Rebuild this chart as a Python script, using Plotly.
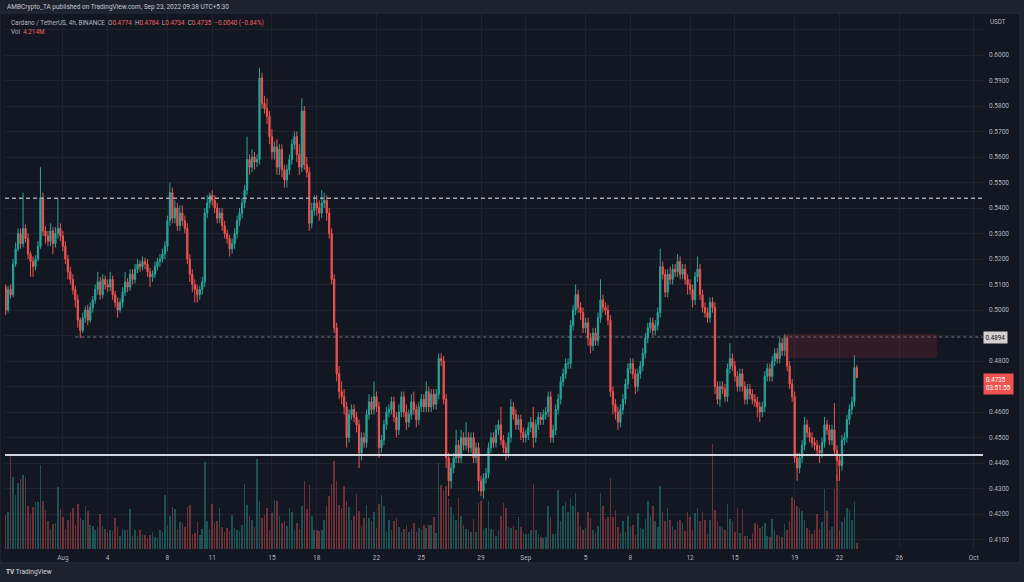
import plotly.graph_objects as go
import pandas as pd

# ---------------- data (ADA/USDT 4h, BINANCE) ----------------
# prices in 1e-4 USDT
first_open = 5090
close = [
    5000, 5080, 5060, 5180, 5240,              # Jul 28
    5300, 5260, 5320, 5280, 5220, 5190,        # Jul 29
    5170, 5200, 5250, 5440, 5310, 5290,        # Jul 30
    5270, 5310, 5260, 5300, 5320, 5290,        # Jul 31
    5250, 5200, 5150, 5120, 5080, 5040,        # Aug 1
    4960, 4920, 4970, 5000, 4960, 5010,        # Aug 2
    5040, 5080, 5110, 5060, 5120, 5100,        # Aug 3
    5090, 5120, 5060, 5030, 5000, 5030,        # Aug 4
    5070, 5110, 5090, 5140, 5120, 5160,        # Aug 5
    5180, 5170, 5190, 5180, 5150, 5130,        # Aug 6
    5140, 5170, 5190, 5200, 5220, 5250,        # Aug 7
    5350, 5460, 5360, 5400, 5330, 5380,        # Aug 8
    5350, 5320, 5200, 5140, 5100, 5080,        # Aug 9
    5060, 5080, 5110, 5380, 5420, 5450,        # Aug 10
    5430, 5400, 5360, 5380, 5330, 5300,        # Aug 11
    5280, 5240, 5260, 5300, 5350, 5380,        # Aug 12
    5420, 5470, 5590, 5560, 5600, 5580,        # Aug 13
    5590, 5910, 5810, 5790, 5760, 5680,        # Aug 14
    5620, 5640, 5560, 5630, 5550, 5510,        # Aug 15
    5550, 5590, 5650, 5680, 5610, 5560,        # Aug 16
    5780, 5570, 5540, 5340, 5390, 5420,        # Aug 17
    5400, 5380, 5420, 5430, 5380, 5300,        # Aug 18
    5120, 4930, 4750, 4680, 4660, 4620,        # Aug 19
    4500, 4590, 4610, 4580, 4550, 4440,        # Aug 20
    4500, 4480, 4590, 4640, 4610, 4660,        # Aug 21
    4620, 4460, 4490, 4550, 4600, 4610,        # Aug 22
    4640, 4580, 4530, 4600, 4660, 4600,        # Aug 23
    4560, 4590, 4640, 4610, 4570, 4620,        # Aug 24
    4650, 4620, 4680, 4620, 4670, 4630,        # Aug 25
    4670, 4810, 4800, 4650, 4420, 4330,        # Aug 26
    4380, 4420, 4470, 4420, 4500, 4470,        # Aug 27
    4500, 4460, 4500, 4420, 4460, 4330,        # Aug 28
    4290, 4340, 4360, 4460, 4500, 4480,        # Aug 29
    4530, 4550, 4490, 4460, 4440, 4500,        # Aug 30
    4620, 4590, 4550, 4570, 4520, 4500,        # Aug 31
    4510, 4540, 4560, 4500, 4550, 4580,        # Sep 1
    4570, 4590, 4600, 4660, 4500, 4530,        # Sep 2
    4610, 4650, 4720, 4750, 4790, 4790,        # Sep 3
    4940, 5000, 5060, 5010, 4990, 4930,        # Sep 4
    4950, 4890, 4860, 4910, 4880, 4970,        # Sep 5
    5040, 5010, 5000, 4960, 4680, 4630,        # Sep 6
    4600, 4560, 4610, 4650, 4710, 4770,        # Sep 7
    4790, 4750, 4700, 4750, 4780, 4830,        # Sep 8
    4890, 4930, 4950, 4920, 4940, 4990,        # Sep 9
    5170, 5140, 5070, 5140, 5120, 5160,        # Sep 10
    5150, 5190, 5140, 5160, 5120, 5100,        # Sep 11
    5080, 5040, 5130, 5160, 5060, 5010,        # Sep 12
    4990, 4970, 5030, 5010, 4700, 4650,        # Sep 13
    4700, 4690, 4660, 4770, 4810, 4780,        # Sep 14
    4740, 4700, 4750, 4700, 4650, 4690,        # Sep 15
    4670, 4650, 4640, 4620, 4600, 4620,        # Sep 16
    4740, 4770, 4740, 4800, 4830, 4810,        # Sep 17
    4870, 4840, 4890, 4780, 4710, 4660,        # Sep 18
    4420, 4380, 4420, 4470, 4550, 4520,        # Sep 19
    4500, 4480, 4470, 4450, 4440, 4480,        # Sep 20
    4550, 4530, 4490, 4530, 4450, 4410,        # Sep 21
    4390, 4490, 4500, 4570, 4610, 4640,        # Sep 22
    4774, 4735,                                # Sep 23
]
# wick length above max(open, close), 1e-4 USDT
upper_wick = [
    10, 15, 20, 20, 25,
    20, 20, 140, 15, 20, 10,
    20, 15, 20, 120, 20, 20,
    20, 30, 15, 25, 120, 20,
    20, 20, 15, 20, 20, 15,
    20, 10, 20, 15, 20, 20,
    15, 20, 40, 20, 20, 15,
    20, 30, 15, 15, 20, 15,
    20, 40, 15, 20, 20, 20,
    20, 15, 20, 15, 20, 15,
    15, 20, 15, 20, 20, 20,
    20, 40, 20, 30, 20, 30,
    30, 20, 20, 20, 20, 20,
    20, 15, 20, 20, 30, 10,
    20, 20, 20, 20, 20, 20,
    15, 15, 20, 20, 20, 20,
    20, 20, 90, 20, 30, 20,
    20, 40, 20, 30, 40, 20,
    30, 20, 30, 20, 20, 20,
    20, 20, 20, 20, 20, 40,
    50, 20, 30, 20, 30, 30,
    30, 30, 50, 30, 20, 20,
    20, 20, 20, 30, 40, 30,
    20, 20, 20, 20, 20, 20,
    20, 20, 20, 30, 20, 60,
    20, 20, 20, 20, 20, 20,
    20, 20, 20, 30, 20, 20,
    30, 20, 30, 40, 20, 20,
    20, 20, 40, 20, 20, 20,
    20, 20, 20, 20, 20, 20,
    20, 20, 60, 20, 30, 20,
    60, 20, 20, 20, 20, 20,
    20, 20, 20, 20, 20, 20,
    20, 20, 70, 20, 20, 20,
    30, 20, 20, 20, 20, 20,
    20, 20, 20, 60, 20, 20,
    20, 20, 20, 20, 20, 20,
    20, 20, 20, 20, 20, 20,
    20, 20, 40, 20, 20, 20,
    20, 20, 20, 20, 20, 20,
    80, 20, 20, 20, 20, 20,
    20, 20, 20, 20, 20, 20,
    20, 20, 20, 20, 20, 20,
    20, 20, 20, 20, 20, 20,
    70, 20, 20, 20, 30, 20,
    20, 30, 20, 20, 20, 20,
    20, 20, 20, 50, 20, 20,
    20, 20, 20, 20, 20, 20,
    20, 20, 20, 20, 60, 20,
    20, 20, 20, 20, 20, 20,
    20, 20, 20, 20, 20, 20,
    20, 20, 20, 20, 20, 20,
    20, 20, 15, 10, 20, 20,
    20, 20, 20, 20, 30, 20,
    20, 20, 20, 20, 20, 20,
    30, 20, 20, 20, 105, 20,
    20, 20, 20, 20, 20, 20,
    50, 10,
]
# wick length below min(open, close), 1e-4 USDT
lower_wick = [
    20, 10, 15, 10, 10,
    10, 20, 15, 15, 20, 60,
    40, 15, 10, 10, 20, 30,
    20, 20, 40, 15, 20, 20,
    20, 20, 30, 20, 20, 30,
    30, 30, 10, 20, 20, 10,
    20, 15, 20, 20, 15, 20,
    20, 15, 20, 20, 30, 10,
    20, 15, 20, 15, 20, 15,
    15, 20, 15, 20, 20, 40,
    20, 15, 15, 20, 15, 20,
    20, 20, 20, 20, 20, 20,
    20, 20, 20, 30, 30, 50,
    30, 20, 20, 20, 20, 20,
    20, 20, 20, 20, 20, 20,
    20, 30, 20, 20, 20, 20,
    20, 20, 20, 30, 20, 30,
    20, 20, 20, 20, 30, 30,
    30, 30, 30, 30, 30, 30,
    30, 20, 20, 20, 30, 30,
    20, 20, 20, 30, 20, 20,
    30, 30, 20, 20, 30, 20,
    20, 20, 30, 30, 30, 30,
    40, 20, 20, 20, 30, 60,
    30, 20, 20, 20, 20, 20,
    20, 40, 20, 20, 20, 20,
    20, 20, 30, 20, 20, 20,
    30, 20, 20, 20, 30, 20,
    20, 20, 20, 20, 20, 20,
    20, 20, 20, 20, 40, 60,
    30, 20, 20, 20, 20, 20,
    20, 20, 20, 20, 20, 40,
    20, 30, 20, 20, 20, 20,
    20, 20, 20, 20, 30, 20,
    20, 20, 20, 20, 30, 20,
    20, 20, 20, 40, 20, 20,
    20, 20, 20, 20, 20, 20,
    20, 20, 20, 20, 20, 20,
    20, 20, 20, 20, 30, 20,
    20, 30, 30, 20, 20, 20,
    20, 20, 20, 20, 20, 40,
    30, 30, 20, 20, 20, 20,
    20, 20, 30, 20, 20, 20,
    20, 20, 20, 20, 20, 20,
    20, 20, 20, 20, 20, 20,
    20, 20, 20, 20, 20, 40,
    20, 30, 20, 20, 20, 20,
    20, 20, 20, 20, 30, 20,
    30, 20, 20, 20, 20, 20,
    20, 20, 20, 20, 20, 20,
    20, 20, 20, 40, 40, 20,
    20, 20, 20, 20, 20, 20,
    20, 20, 20, 20, 20, 20,
    20, 50, 20, 20, 20, 20,
    20, 20, 20, 20, 40, 20,
    20, 20, 20, 20, 20, 80,
    60, 20, 20, 20, 20, 20,
    20, 1,
]
# volume per candle (relative units)
volume = [
    34, 37, 94, 72, 54, 66, 70, 74, 72, 43,
    35, 42, 47, 47, 84, 48, 39, 28, 20, 25,
    26, 62, 40, 32, 20, 29, 37, 41, 24, 45,
    31, 29, 43, 38, 24, 23, 19, 22, 35, 23,
    20, 17, 19, 18, 31, 22, 13, 20, 19, 19,
    40, 13, 19, 13, 19, 14, 14, 11, 14, 17,
    12, 11, 19, 17, 54, 24, 33, 42, 40, 20,
    27, 26, 22, 42, 44, 15, 16, 27, 14, 20,
    87, 28, 20, 45, 26, 28, 41, 22, 17, 21,
    18, 34, 21, 19, 18, 24, 65, 44, 33, 29,
    22, 90, 48, 31, 34, 41, 19, 36, 49, 48,
    33, 26, 28, 23, 41, 37, 19, 26, 20, 43,
    68, 40, 64, 33, 19, 19, 18, 19, 29, 43,
    53, 65, 88, 68, 44, 41, 63, 48, 42, 29,
    33, 55, 38, 23, 31, 44, 31, 28, 37, 21,
    45, 54, 43, 17, 29, 19, 28, 31, 22, 17,
    20, 24, 17, 20, 26, 17, 21, 19, 24, 21,
    24, 24, 32, 16,
    86, 64, 59, 63, 50, 42, 35, 29, 51, 33,
    24, 20, 19, 17, 30, 17, 46, 48, 19, 21,
    48, 20, 19, 13, 19, 33, 46, 41, 22, 21,
    23, 19, 32, 22, 16, 15, 15, 19, 65, 19,
    15, 12, 11, 12, 43, 32, 15, 15, 59, 28,
    43, 47, 37, 51, 43, 56, 37, 23, 19, 21,
    37, 31, 19, 16, 23, 56, 43, 30, 32, 71,
    32, 39, 22, 16, 28, 17, 33, 22, 24, 14,
    36, 21, 20, 30, 48, 33, 43, 28, 22, 63,
    37, 28, 41, 29, 23, 19, 28, 29, 26, 18,
    37, 32, 19, 36, 41, 28, 37, 29, 15, 29,
    105, 39, 28, 23, 22, 19, 45, 30, 27, 17,
    41, 16, 40, 13, 13, 10, 16, 26, 24, 21,
    23, 26, 13, 12, 30, 19, 14, 13, 12, 25,
    19, 28, 52, 49, 43, 41, 38, 29, 21, 19,
    15, 19, 35, 20, 27, 60, 38, 19, 22, 60,
    74, 19, 27, 32, 41, 39, 29, 47, 6,
]

date_ticks = ["2022-08-01", "2022-08-04", "2022-08-08", "2022-08-11", "2022-08-15",
              "2022-08-18", "2022-08-22", "2022-08-25", "2022-08-29", "2022-09-01",
              "2022-09-05", "2022-09-08", "2022-09-12", "2022-09-15", "2022-09-19",
              "2022-09-22", "2022-09-26", "2022-10-01"]
date_labels = ["Aug", "4", "8", "11", "15", "18", "22", "25", "29", "Sep",
               "5", "8", "12", "15", "19", "22", "26", "Oct"]
price_ticks = [0.41, 0.42, 0.43, 0.44, 0.45, 0.46, 0.47, 0.48, 0.49, 0.50,
               0.51, 0.52, 0.53, 0.54, 0.55, 0.56, 0.57, 0.58, 0.59, 0.60, 0.61]
hidden_price_labels = [0.47, 0.49, 0.61]

resistance_dashed = 0.5438
support_white = 0.4431
level_dotted = 0.4894
last_price = 0.4735
zone_low, zone_high = 0.48145, 0.49047

# ---------------- build ----------------
n = len(close)
times = pd.date_range("2022-07-28 04:00", periods=n, freq="4h")
opens = [first_open] + close[:-1]
highs = [max(o, c) + u for o, c, u in zip(opens, close, upper_wick)]
lows = [min(o, c) - d for o, c, d in zip(opens, close, lower_wick)]
sc = 1e-4
o_p = [v * sc for v in opens]
c_p = [v * sc for v in close]
h_p = [v * sc for v in highs]
l_p = [v * sc for v in lows]

UP = "#26a69a"
DN = "#ef5350"
vol_colors = ["rgba(38,166,154,0.42)" if c >= o else "rgba(239,83,80,0.42)"
              for o, c in zip(opens, close)]

W, H = 1024, 582
ML, MR, MT, MB = 5, 41, 14, 33
PW, PH = W - ML - MR, H - MT - MB


def px(x):
    return (x - ML) / PW


def py(y):
    return (H - MB - y) / PH


fig = go.Figure()
fig.add_trace(go.Bar(
    x=times[:len(volume)], y=volume, yaxis="y2",
    marker=dict(color=vol_colors[:len(volume)], line=dict(width=0)),
    width=4 * 3600 * 1000 * 0.62, hoverinfo="skip", showlegend=False))
fig.add_trace(go.Candlestick(
    x=times, open=o_p, high=h_p, low=l_p, close=c_p,
    increasing=dict(line=dict(color=UP, width=1), fillcolor=UP),
    decreasing=dict(line=dict(color=DN, width=1), fillcolor=DN),
    whiskerwidth=0, showlegend=False))

GRID = "#1f232e"
TXT = "#b2b5be"
FONT = "Roboto"

tick_text = ["" if p in hidden_price_labels else f"{p:.4f}" for p in price_ticks]

y_bottom = 0.5 - (549 - 310) / 2550
y_top = 0.5 + (310 - 14) / 2550

fig.update_layout(
    width=W, height=H,
    margin=dict(l=ML, r=MR, t=MT, b=MB),
    paper_bgcolor="#1e222d", plot_bgcolor="#131722",
    font=dict(family=FONT, color=TXT, size=6.5),
    showlegend=False, bargap=0,
    xaxis=dict(
        type="date", range=["2022-07-28 03:00", "2022-10-01 14:43"],
        rangeslider=dict(visible=False),
        tickvals=date_ticks, ticktext=date_labels,
        showgrid=True, gridcolor=GRID, gridwidth=1, zeroline=False,
        showline=False, ticks="", tickfont=dict(size=6.5, color=TXT),
        ticklabelstandoff=3, fixedrange=True),
    yaxis=dict(
        side="right", range=[y_bottom, y_top],
        tickvals=price_ticks, ticktext=tick_text,
        showgrid=True, gridcolor=GRID, gridwidth=1, zeroline=False,
        showline=False, ticks="", tickfont=dict(size=6.5, color=TXT),
        ticklabelstandoff=5, fixedrange=True),
    yaxis2=dict(overlaying="y", range=[0, PH], visible=False, fixedrange=True),
)

shapes = [
    # chart panel
    dict(type="rect", xref="paper", yref="paper", x0=px(0), x1=px(1020),
         y0=py(563), y1=py(13), fillcolor="#131722",
         line=dict(color="#2a2e39", width=1), layer="below"),
    # dashed resistance
    dict(type="line", xref="paper", yref="y", x0=0, x1=1,
         y0=resistance_dashed, y1=resistance_dashed,
         line=dict(color="#a3a6af", width=1.5, dash="4px,3px"), layer="above"),
    # white support
    dict(type="line", xref="paper", yref="y", x0=0, x1=1,
         y0=support_white, y1=support_white,
         line=dict(color="#d1d4dc", width=2), layer="above"),
    # dotted level from the Aug 2 low
    dict(type="line", xref="x", yref="y", x0="2022-08-01 20:00", x1="2022-10-01 14:43",
         y0=level_dotted, y1=level_dotted,
         line=dict(color="#787b86", width=1, dash="dot"), layer="above"),
    # supply zone
    dict(type="rect", xref="x", yref="y", x0="2022-09-18 08:00", x1="2022-09-28 12:00",
         y0=zone_low, y1=zone_high, fillcolor="rgba(160,45,55,0.22)",
         line=dict(color="rgba(160,45,55,0.3)", width=0.5), layer="above"),
]
fig.update_layout(shapes=shapes)

G = TXT
R = "#f0605a"
ann = [
    dict(x=px(5), y=py(7), text="AMBCrypto_TA published on TradingView.com, Sep 23, 2022 09:38 UTC+5:30",
         font=dict(size=6.5, color="#c3c6ce")),
    dict(x=px(9), y=py(23),
         text=(f"Cardano / TetherUS, 4h, BINANCE  <span style='color:{G}'>O</span>"
               f"<span style='color:{R}'>0.4774</span>  H<span style='color:{R}'>0.4784</span>  "
               f"L<span style='color:{R}'>0.4734</span>  C<span style='color:{R}'>0.4735</span>  "
               f"<span style='color:{R}'>−0.0040 (−0.84%)</span>"),
         font=dict(size=6.3, color=G)),
    dict(x=px(9), y=py(32), text=f"Vol  <span style='color:{R}'>4.214M</span>",
         font=dict(size=6.3, color=G)),
    dict(x=px(988), y=py(22), text="USDT", font=dict(size=6.3, color=TXT)),
    dict(x=px(4), y=py(572), text="<b>TV</b> TradingView", font=dict(size=6.5, color="#d1d4dc")),
]
for a in ann:
    a.update(xref="paper", yref="paper", xanchor="left", yanchor="middle", showarrow=False)

ann.append(dict(xref="paper", yref="y", x=1.0, y=level_dotted, xanchor="left", yanchor="middle",
                text="0.4894", showarrow=False, bgcolor="#d6cfd0", borderpad=1.5,
                font=dict(size=6.3, color="#131722")))
ann.append(dict(xref="paper", yref="y", x=1.0, y=last_price + 0.0018, xanchor="left", yanchor="top",
                text="0.4735<br>03:51:55", showarrow=False, bgcolor="#ef5350", borderpad=2,
                align="left", font=dict(size=6.3, color="#ffffff")))
fig.update_layout(annotations=ann)

fig.write_html(
    "out.html",
    config={"displayModeBar": False, "staticPlot": True},
    post_script="document.body.style.margin='0';document.body.style.padding='0';"
                "document.body.style.background='#1e222d';",
)
